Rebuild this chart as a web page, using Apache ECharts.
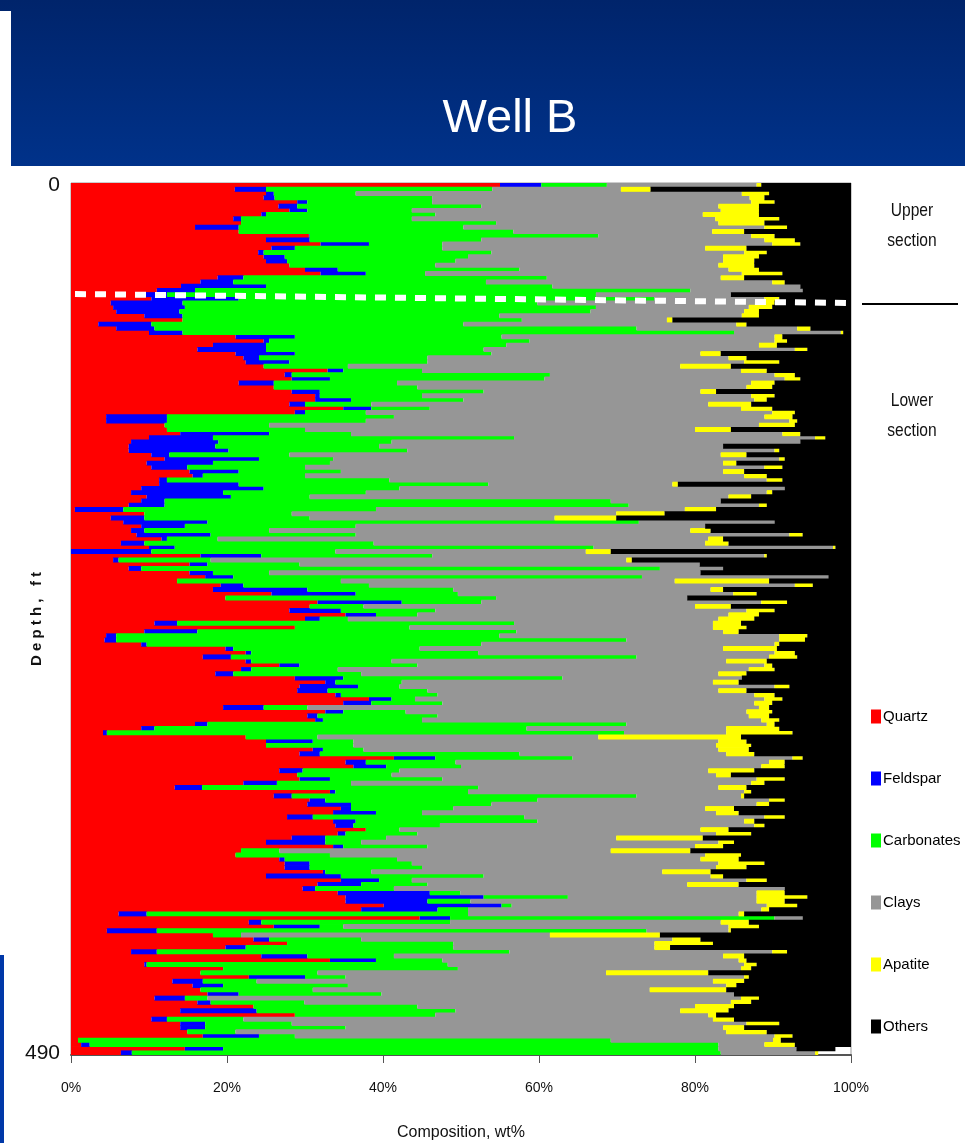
<!DOCTYPE html>
<html>
<head>
<meta charset="utf-8">
<title>Well B</title>
<script src="https://cdn.jsdelivr.net/npm/echarts@6/dist/echarts.min.js"></script>
<style>
html,body{margin:0;padding:0;background:#ffffff;}
#chart{width:965px;height:1143px;}
</style>
</head>
<body>
<div id="chart"></div>
<script>
const mineralNames = ['Quartz', 'Feldspar', 'Carbonates', 'Clays', 'Apatite', 'Others'];
const mineralColors = ['#ff0000', '#0000ff', '#00ff00', '#969696', '#ffff00', '#000000'];

// composition (wt%) of each sample, from top (0 ft) to bottom (490 ft)
const quartz = [
55,21,25,24.7,29,26.6,28,24.4,20.8,21.8,
15.9,21.5,30.5,25,32,25.7,24,24.7,25,28,
30,32,18.8,16.6,14.1,11,9,10.3,5.1,5.4,
5.8,9.4,14.3,3.5,5.8,10,21.1,24.7,18.2,16.2,
21.1,22.1,22.4,24.7,32.9,27.4,28.3,21.5,26,28.3,
31.3,31.3,28,34.9,28.7,4.5,4.5,12,12.3,14,
10,7.7,7.4,7.4,10.3,12,9.7,10.3,15.2,15.6,
11.3,11.3,9,7.7,9.7,9,7.4,0.5,9.4,5.1,
6.7,9,7.7,8.4,11.6,6.4,10,0,16.6,
5.4,15.2,7.4,15.2,17.2,13.6,19.2,18.2,25.7,19.8,
31.6,30.6,28,35.2,30,10.7,28.7,9.4,4.5,4.3,
9,19.8,22.4,16.9,22.4,26.7,21.8,18.5,28.7,32.6,
29.3,29,33.9,38.2,34.9,19.5,32.6,30.3,31.3,15.9,
9,4.1,22.4,25,25,31,29.3,41.4,35.2,36.2,
26.7,29,29.3,22.1,13.3,33.2,26,30.6,30.3,34.6,
33.6,27.7,33.6,33.9,37.8,34.2,28.3,25,33.6,21.8,
21.1,26.7,27.4,27.4,32.3,25,34.6,31.6,29.7,34.2,
35.2,35.2,40.1,37.2,6.1,44.7,22.8,26,4.6,18.2,
23.4,27.7,19.8,7.7,24.4,33.2,9.4,19.5,16.6,22.8,
13,15.6,16.6,17.5,10.7,16.2,23.4,14,28.7,10.3,
14,14,14.9,16.9,0.9,1.3,14.6,6.4
];
const feldspar = [
5.3,4,1,1.4,1.3,2.4,2.3,0.6,1,0,
5.6,0,0.1,5.6,6.2,3,0.7,2.7,2.7,0,
4.2,5.8,3.3,4.2,10.9,4.9,3.3,11.2,9.2,9.2,
8.1,4.9,0,6.8,4.9,4.3,7.6,0.7,6.8,8.8,
7.6,2,5.6,0,2,0.9,4.9,4.5,0,3.6,
0.6,4.6,2,3.6,1.3,7.8,7.8,0,0,11.4,
8.2,11.2,11.1,12.8,2.3,12.1,8.5,4.6,6.3,1.3,
1,10.2,15.7,11.8,10.8,3,4.6,6.2,0,4.3,
10.8,5.6,1.7,9.5,0.7,3,3.3,10.3,7.8,
0.7,2.3,1.6,3,3.6,0,2.9,12.1,10.8,0,
10.8,0,6.6,3.9,1.9,2.9,0,6.8,1.3,1.5,
0.7,1,0.7,3.6,0.7,2.6,1.3,2.3,6.2,1.3,
7.5,3.9,0.7,2.9,3.6,5.2,2.3,1.3,1,1.6,
1.7,0.5,0,6,0,1.3,2.6,5.3,2.6,4.2,
3,0,3.9,4.3,3.5,0.7,2.3,2,5.6,1.3,
5.5,3.3,2.9,2.3,0,1,4.3,7.6,1.3,0,
0,0.7,3.2,3.2,0.3,9.6,4.9,5.6,1.6,11.8,
17.7,10.5,15.1,9.8,3.6,3.9,1.6,5.9,6.4,0,
2,0,2.6,3.3,5.9,5.9,0.3,0,0,7.2,
3.9,3.9,0,4,3.9,1.7,0,9.8,0,2,
3.2,3.2,0,7.2,0,1.1,4.9,1.4
];
const carbonates = [
8.4,29,10.5,20.2,16,23.6,13.4,21.7,21.9,32.7,
28.8,35.2,37,22,9.4,18.9,29.2,23.5,21.6,18.7,
23.3,7.6,38.9,32.4,36.7,63.5,55,53.3,45.5,52.7,
52.7,40.6,43.5,40,61.8,70.7,26.5,33.4,30.8,27.9,
25.2,21.6,17.7,10.8,10.1,33.1,27.5,15.8,18.4,21,
13.1,14.4,8.5,7.5,7.8,29.1,25.5,13.4,17.7,10.5,
38.6,22.2,21,22.9,15.4,9.5,15,15.1,13.1,13.1,
28.5,32,17.4,18.3,10.1,57.2,59.5,32.4,18.9,21.2,
55.3,21.9,16,18.6,6.5,29.4,53.7,23.6,21.9,
11.8,11.8,66.5,7.2,52.4,21,16.1,18.7,13.1,34.7,
10.2,6.9,12.1,5.3,3.6,43.2,14.7,40.9,49.1,65.4,
42.9,23.9,29.1,52,18,15.1,11.1,16.4,28.1,8.5,
5.3,12.8,12.4,3,9.1,5.6,8,15.4,12.7,53.7,
47.7,66.3,9.2,5.2,11.2,5.2,25.6,17.6,11.5,9.6,
12.4,12.1,14.4,9.5,35.4,17,44.2,27.2,18,13.1,
5.9,27.1,23.3,11.1,4.3,9.2,7.8,4.6,10.8,4.9,
12.1,14.4,13.1,14.4,5.9,18.3,4.2,8.5,10.1,3.9,
10.8,5.5,1.3,3.9,41.2,41.6,24.2,3,62.8,3.6,
11.8,21.3,26.6,45.2,11.1,8.5,38.6,30.1,15,5.2,
6.9,16,14.4,18.3,2.9,12,21,25.5,18,9.8,
11.1,18,6.2,4.6,68.3,80.6,63.5,75.5
];
const clays = [
19.2,16.5,49.5,40.7,40.9,30.4,39.6,34.3,38.9,28.5,
38.6,25.5,19.6,36.3,42.3,33.7,32.4,32.7,34.3,36.3,
26.8,40.6,22.3,36.7,31.8,14.4,17.3,14.1,28.4,19.6,
19.7,31.1,18.6,35,20.6,13.7,35,31.4,32.4,39.9,
26.8,38.6,40.6,42.6,40.9,28.8,30.8,45.4,42.2,27.8,
42.2,37.3,43.2,39.9,52.1,47.5,54.3,62.8,50,55.3,
38.6,52.4,44.1,47.1,55.3,57.2,50.4,58.9,49,56.3,
48.4,23.6,49.4,51.4,53.7,14.1,16.7,39.6,41.6,31.4,
17.4,44.8,54,55.6,62.9,42.5,30.7,32.1,42.6,
53.3,51.3,8.1,55.3,23.9,42.8,54.6,33,35.3,24.5,
35.9,42.5,39.9,39.9,47.5,25.5,38.9,26.5,35.9,19.6,
37.6,38.9,38,17,42.9,44.5,52.7,45.8,23,39.9,
48.1,37.3,40.6,44.8,40,57.9,43.7,39.9,43.5,18,
25.6,13.1,36,46.8,46.5,45.5,26.5,28.2,40.2,38.5,
39.6,41.6,40.3,51.3,30.8,35.4,13.4,29.7,34,32.3,
37.7,30.8,26.5,40.3,38.6,38.3,29.5,45.8,34.3,42.5,
48.1,38.9,39.3,37.7,37.3,29.1,42.9,33.3,50.1,38,
24.2,36.7,32.7,37.6,34.7,3.6,34.7,49.4,10.5,39.6,
39.9,25.8,25.8,33.7,42.2,38,38,36.3,37,51.1,
58.5,48.5,43.2,45.2,68.4,54.7,35.6,28.8,35,60.2,
58.3,48.4,62.9,61.5,20.8,5.9,10,12.1
];
const apatite = [
0.6,3.8,3.5,1.9,3,5.2,4.9,7.2,8.2,5.9,
2.9,4.1,3,3.9,3.6,5.3,2.9,4.6,4,4.6,
3.9,5.2,3,1.6,0,0,0,1.9,2,3,
1.9,2.2,0.7,1.3,1.7,0.3,1,1.6,2.3,1.6,
2.6,2.3,4.5,6.5,3.3,2.6,2,3,3.3,2,
3,1.6,5.5,4,2.9,3.6,1,4.6,4.6,2.3,
1.3,0,0,0.6,3.3,0.7,1.7,2.3,2.7,2.9,
2,0.7,0,0.7,2.9,0,1,4,6.2,7.9,
0,0,2.6,1.7,1.9,3,0.3,3.2,0.3,
0.7,0,0,0,0,12.1,2.3,1.6,3,0,
3.3,4.6,3.6,3.9,4.6,3.6,4.3,2,3.6,3.3,
0.6,6.9,2.6,3.6,5.2,1,3.3,3.6,0,3.3,
1.9,3.6,2.6,2.3,2.3,1.3,3.3,2.6,2.3,1,
6.8,8.5,18.3,3.6,4.5,3.9,3.6,1.3,2,3,
5.9,1.9,3.6,1.7,3.6,0.9,0.4,2,1.6,3.7,
2.9,2.6,1.3,1.3,3.6,4.5,11.1,2,3.6,10.2,
4.6,4.9,5.9,3.9,6.2,1.6,2.6,6.6,0,3.6,
6.5,3.6,3.9,1,0.7,0,3.6,3.9,0.3,14.1,
3.6,7.5,2,1.9,2.7,1,1.6,1.3,13.1,0.6,
4,1.3,9.8,0,2.3,2.6,5,6.2,1,2.7,
4.2,2.7,5.2,2.3,1,3.9,0,0.4
];
const others = [
11.5,25.7,10.5,11.1,9.8,11.8,11.8,11.8,9.2,11.1,
8.2,13.7,9.8,7.2,6.5,13.4,10.8,11.8,12.4,12.4,
11.8,8.8,13.7,8.5,6.5,6.2,15.4,9.2,9.8,10.1,
11.8,11.8,22.9,13.4,5.2,1,8.8,8.2,9.5,5.6,
16.7,13.4,9.2,15.4,10.8,7.2,6.5,9.8,10.1,17.3,
9.8,10.8,12.8,10.1,7.2,7.5,6.9,7.2,15.4,6.5,
3.3,6.5,16.4,9.2,13.4,8.5,14.7,8.8,13.7,10.8,
8.8,22.2,8.5,10.1,12.8,16.7,10.8,17.3,23.9,30.1,
9.8,18.7,18,6.2,16.4,15.7,2,30.8,10.8,
28.1,19.4,16.4,19.3,2.9,10.5,4.9,16.4,12.1,21,
8.2,15.4,9.8,11.8,12.4,14.1,13.4,14.4,5.6,5.9,
9.2,9.5,7.2,6.9,10.8,10.1,9.8,13.4,14,14.4,
7.9,13.4,9.8,8.8,10.1,10.5,10.1,10.5,9.2,9.8,
9.2,7.5,14.1,13.4,12.8,13.1,12.4,6.2,8.5,8.5,
12.4,15.4,8.5,11.1,13.4,12.8,13.7,8.5,10.5,15,
14.4,8.5,12.4,11.1,15.7,12.8,19,15,16.4,20.6,
14.1,14.4,11.1,13.4,18,16.4,10.8,14.4,8.5,8.5,
5.6,8.5,6.9,10.5,13.7,6.2,13.1,11.8,15.4,24.5,
19.3,17.7,23.2,8.2,13.7,13.4,12.1,12.8,18.3,13.1,
13.7,14.7,16,15,11.8,12.8,15,15.7,17.3,15,
9.2,13.7,10.8,7.5,9,7.2,5,0
];
const mineralSeries = [quartz, feldspar, carbonates, clays, apatite, others];
const depthTickLabels = ['0', '490'];
const xTicks = { min: 0, max: 100, interval: 20 };

function fontAvailable(name) {
  const ctx = document.createElement('canvas').getContext('2d');
  const probe = 'abcdefghijklmnopqrstuvwxyzWMQ0123';
  ctx.font = '40px monospace';
  const w0 = ctx.measureText(probe).width;
  ctx.font = '40px "' + name + '", monospace';
  return ctx.measureText(probe).width !== w0;
}
const hasNarrow = fontAvailable('Liberation Sans Narrow');
const NARROW = hasNarrow ? '"Liberation Sans Narrow", "Liberation Sans", sans-serif' : '"Liberation Sans", Arial, sans-serif';
const SF = hasNarrow ? 1.15 : 1;

const sampleIndex = quartz.map((_, i) => i);
const chart = echarts.init(document.getElementById('chart'), null, { renderer: 'canvas' });

function sideText(txt, x, y) {
  return {
    type: 'text', x: x, y: y, scaleX: hasNarrow ? 1 : 0.82, z: 50,
    style: { text: txt, fill: '#111', font: '19px ' + NARROW, align: 'center', verticalAlign: 'middle' }
  };
}

const option = {
  animation: false,
  backgroundColor: '#ffffff',
  grid: { left: 71, right: 114, top: 183, bottom: 88, show: true, borderColor: '#999999', borderWidth: 1,
          backgroundColor: 'transparent', containLabel: false, outerBoundsMode: 'none' },
  legend: {
    data: mineralNames, orient: 'vertical', left: 871, top: 709,
    itemWidth: 10, itemHeight: 14, itemGap: 47, icon: 'rect', padding: 0,
    textStyle: { fontSize: Math.round(15 * SF), fontFamily: NARROW, color: '#000', padding: [0, 0, 0, -3] },
    selectedMode: false
  },
  xAxis: {
    type: 'value', min: xTicks.min, max: xTicks.max, interval: xTicks.interval,
    axisLine: { show: true, lineStyle: { color: '#555', width: 2 } },
    axisTick: { show: true, length: 8, lineStyle: { color: '#555', width: 1 } },
    splitLine: { show: false },
    axisLabel: { formatter: v => v + '%', margin: 26, fontSize: Math.round(14 * SF), fontFamily: NARROW, color: '#111' },
    name: 'Composition, wt%', nameLocation: 'middle', nameGap: 70, nameMoveOverlap: false,
    nameTextStyle: { fontSize: Math.round(16 * SF), fontFamily: NARROW, color: '#111' }
  },
  yAxis: {
    type: 'category', inverse: true, data: sampleIndex,
    axisLine: { show: false }, axisTick: { show: false }, splitLine: { show: false },
    axisLabel: {
      interval: 0, margin: 11, fontSize: Math.round(21 * SF), fontFamily: NARROW, color: '#111',
      formatter: (v, i) => i === 0 ? depthTickLabels[0] : (i === sampleIndex.length - 1 ? depthTickLabels[1] : '')
    },
    name: 'D e p t h ,   f t', nameLocation: 'middle', nameRotate: 90, nameGap: 27, nameMoveOverlap: false,
    nameTextStyle: { fontSize: 15, fontWeight: 'bold', fontFamily: NARROW, color: '#111' }
  },
  series: mineralNames.map((nm, k) => ({
    name: nm, type: 'bar', stack: 'total', data: mineralSeries[k],
    barWidth: '118%', itemStyle: { color: mineralColors[k] },
    emphasis: { disabled: true }, silent: true
  })),
  graphic: [
    { type: 'rect', shape: { x: 0, y: 0, width: 965, height: 166 },
      style: { fill: new echarts.graphic.LinearGradient(0, 0, 0, 1, [{ offset: 0, color: '#00246b' }, { offset: 1, color: '#00328a' }]) } },
    { type: 'rect', shape: { x: 0, y: 11, width: 11, height: 155 }, style: { fill: '#ffffff' } },
    { type: 'text', x: 510, y: 119, z: 50,
      style: { text: 'Well B', fill: '#ffffff', font: '47px "Liberation Sans", Arial, sans-serif', align: 'center', verticalAlign: 'middle' } },
    { type: 'rect', shape: { x: 0, y: 955, width: 4, height: 188 }, style: { fill: '#0038a8' } },
    { type: 'line', z: 100, shape: { x1: 75, y1: 294, x2: 850, y2: 303 },
      style: { stroke: '#ffffff', lineWidth: 6, lineDash: [11, 9] } },
    { type: 'line', shape: { x1: 862, y1: 304, x2: 958, y2: 304 }, style: { stroke: '#000000', lineWidth: 2 } },
    sideText('Upper', 912, 211),
    sideText('section', 912, 241),
    sideText('Lower', 912, 401),
    sideText('section', 912, 431)
  ]
};
chart.setOption(option);
</script>
</body>
</html>
